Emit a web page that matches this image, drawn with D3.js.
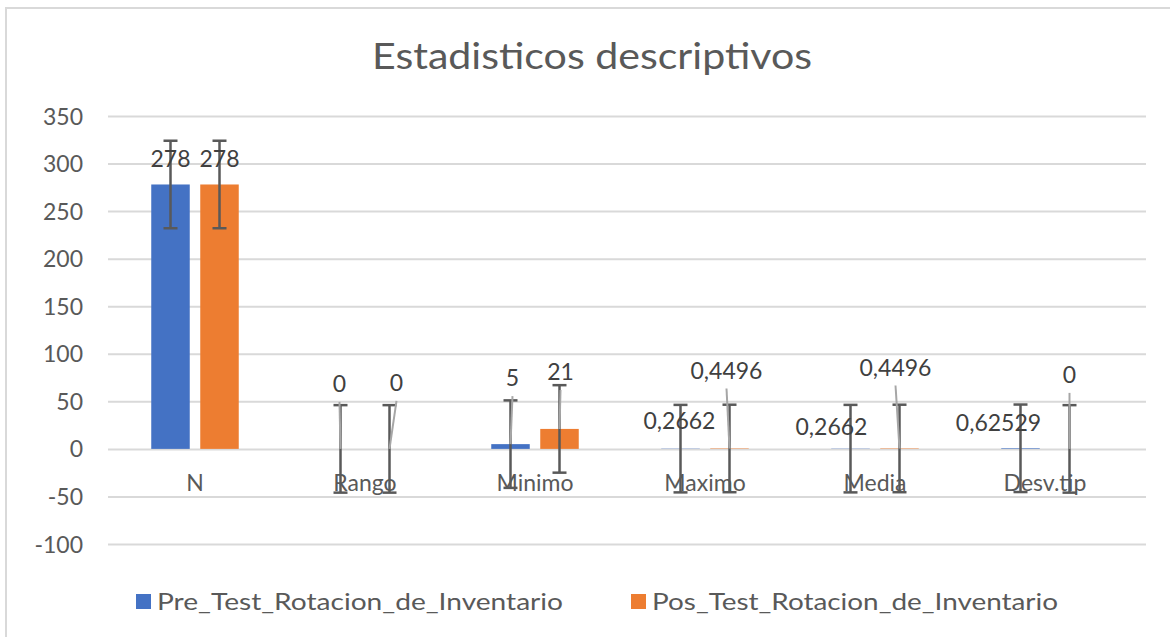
<!DOCTYPE html>
<html>
<head>
<meta charset="utf-8">
<script src="https://cdn.jsdelivr.net/npm/d3@7"></script>
<style>
  html, body { margin: 0; padding: 0; background: #fff; }
  svg { display: block; }
  text { font-family: Lato, "Open Sans", sans-serif; }
</style>
</head>
<body>
<svg id="chart" width="1170" height="637"></svg>
<script>
// ---- data ----
const title = "Estadisticos descriptivos";
const categories = ["N", "Rango", "Minimo", "Maximo", "Media", "Desv.tip"];
const seriesNames = ["Pre_Test_Rotacion_de_Inventario", "Pos_Test_Rotacion_de_Inventario"];
const preValues = [278, 0, 5, 0.2662, 0.2662, 0.62529];
const posValues = [278, 0, 21, 0.4496, 0.4496, 0];
const preLabels = ["278", "0", "5", "0,2662", "0,2662", "0,62529"];
const posLabels = ["278", "0", "21", "0,4496", "0,4496", "0"];
const preErrors = [46, 46, 46, 46, 46, 46];
const posErrors = [46, 46, 46, 46, 46, 46];
const yTicks = [-100, -50, 0, 50, 100, 150, 200, 250, 300, 350];

// ---- layout / style ----
const colors = ["#4472C4", "#ED7D31"];
const textColor = "#595959";
// manual data-label displacement (px) relative to the bar end, as in the source chart
const preLabelOffsets = [[0, -26], [-1, -65], [2, -66], [-1, -28], [-19, -22], [-22, -25]];
const posLabelOffsets = [[0, -26], [7, -66], [1, -57], [-3, -78], [-4, -81], [0, -74]];

const svg = d3.select("#chart");

// chart border (only left/top visible in reference)
svg.append("rect").attr("x", 6).attr("y", 8).attr("width", 1200).attr("height", 700)
  .attr("fill", "none").attr("stroke", "#d9d9d9").attr("stroke-width", 2);

// title
svg.append("text").attr("x", 592).attr("y", 69).attr("text-anchor", "middle")
  .attr("font-size", 36).attr("fill", textColor)
  .attr("textLength", 440).attr("lengthAdjust", "spacingAndGlyphs")
  .text(title);

const gridX0 = 108, gridX1 = 1146;
const y = d3.scaleLinear().domain([-100, 350]).range([544, 116]);
const x = d3.scaleBand().domain(categories).range([110, 1130]).paddingInner(0).paddingOuter(0);
const barW = 38.5, barOff = 24.5;

// gridlines via axis
const yAxis = d3.axisLeft(y).tickValues(yTicks).tickSize(-(gridX1 - gridX0)).tickPadding(25).tickFormat(d => String(d));
const gAxis = svg.append("g").attr("transform", `translate(${gridX0},0)`).call(yAxis);
gAxis.select(".domain").remove();
gAxis.selectAll(".tick line").attr("stroke", "#d9d9d9").attr("stroke-width", 2);
gAxis.selectAll(".tick text").attr("font-size", 23).attr("fill", textColor)
  .attr("font-family", "Lato, 'Open Sans', sans-serif").attr("dy", "0.35em");

const series = [
  { name: seriesNames[0], values: preValues, labels: preLabels, errors: preErrors, offsets: preLabelOffsets, dx: -barOff, color: colors[0] },
  { name: seriesNames[1], values: posValues, labels: posLabels, errors: posErrors, offsets: posLabelOffsets, dx: barOff, color: colors[1] }
];

// bars
series.forEach(s => {
  svg.append("g").selectAll("rect").data(categories).join("rect")
    .attr("x", (c) => x(c) + x.bandwidth() / 2 + s.dx - barW / 2)
    .attr("y", (c, i) => y(Math.max(0, s.values[i])))
    .attr("width", barW)
    .attr("height", (c, i) => Math.abs(y(s.values[i]) - y(0)))
    .attr("fill", s.color);
});

// category labels
svg.append("g").selectAll("text").data(categories).join("text")
  .attr("x", c => x(c) + x.bandwidth() / 2)
  .attr("y", y(0) + 42)
  .attr("text-anchor", "middle").attr("font-size", 23).attr("fill", textColor)
  .text(c => c);

// error bars
series.forEach(s => {
  const g = svg.append("g").attr("stroke", "#595959").attr("stroke-width", 2.5);
  categories.forEach((c, i) => {
    const cx = x(c) + x.bandwidth() / 2 + s.dx;
    const v = s.values[i], e = s.errors[i];
    g.append("line").attr("x1", cx).attr("x2", cx).attr("y1", y(v + e)).attr("y2", y(v - e));
    g.append("line").attr("x1", cx - 7).attr("x2", cx + 7).attr("y1", y(v + e)).attr("y2", y(v + e));
    g.append("line").attr("x1", cx - 7).attr("x2", cx + 7).attr("y1", y(v - e)).attr("y2", y(v - e));
  });
});

// leader lines + data labels
series.forEach(s => {
  categories.forEach((c, i) => {
    const cx = x(c) + x.bandwidth() / 2 + s.dx;
    const v = s.values[i];
    const top = y(Math.max(0, v));
    const [ox, oy] = s.offsets[i];
    const lx = cx + ox, ly = top + oy;
    if (Math.abs(oy) > 40) {
      svg.append("line").attr("x1", lx).attr("y1", ly + 18).attr("x2", cx).attr("y2", top)
        .attr("stroke", "#a6a6a6").attr("stroke-width", 2);
    }
    svg.append("text").attr("x", lx).attr("y", ly).attr("dy", "0.35em")
      .attr("text-anchor", "middle").attr("font-size", 23).attr("fill", "#404040")
      .text(s.labels[i]);
  });
});

// legend
const legendItems = [
  { name: seriesNames[0], color: colors[0], x: 136 },
  { name: seriesNames[1], color: colors[1], x: 631 }
];
legendItems.forEach(l => {
  svg.append("rect").attr("x", l.x).attr("y", 594).attr("width", 15).attr("height", 15).attr("fill", l.color);
  svg.append("text").attr("x", l.x + 21).attr("y", 610).attr("font-size", 24).attr("fill", textColor)
    .attr("textLength", 406).attr("lengthAdjust", "spacingAndGlyphs").text(l.name);
});
</script>
</body>
</html>
